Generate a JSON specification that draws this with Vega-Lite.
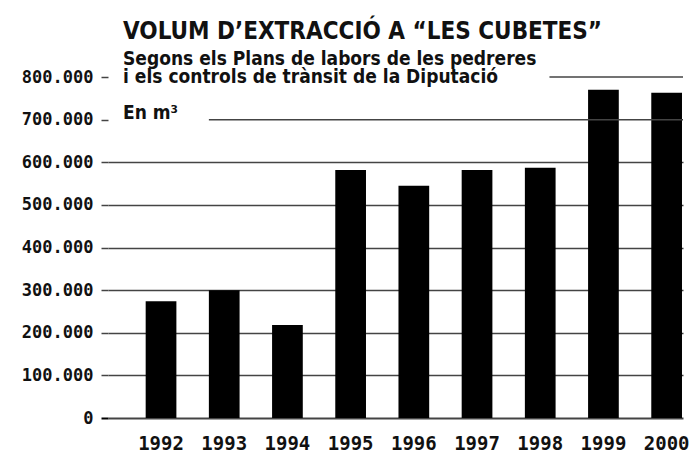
{
  "$schema": "https://vega.github.io/schema/vega-lite/v6.json",
  "width": 575,
  "height": 341,
  "autosize": {"type": "none"},
  "padding": {"left": 108, "top": 77, "right": 11, "bottom": 34},
  "background": "white",
  "config": {"view": {"stroke": null}},
  "title": {
    "text": "VOLUM D’EXTRACCIÓ A “LES CUBETES”",
    "subtitle": ["Segons els Plans de labors de les pedreres", "i els controls de trànsit de la Diputació", "\u200b", "En m³"],
    "anchor": "start",
    "frame": "group",
    "dx": 15,
    "offset": -55,
    "font": "DejaVu Sans Condensed",
    "fontSize": 24,
    "fontWeight": "bold",
    "color": "#111",
    "subtitleFont": "DejaVu Sans Condensed",
    "subtitleFontSize": 19,
    "subtitleFontWeight": "bold",
    "subtitleColor": "#111",
    "subtitleLineHeight": 18,
    "subtitlePadding": 6
  },
  "layer": [
    {
      "data": {"values": [
        {"year": "1992", "volum": 274000},
        {"year": "1993", "volum": 300000},
        {"year": "1994", "volum": 218000},
        {"year": "1995", "volum": 582000},
        {"year": "1996", "volum": 545000},
        {"year": "1997", "volum": 582000},
        {"year": "1998", "volum": 587000},
        {"year": "1999", "volum": 770000},
        {"year": "2000", "volum": 763000}
      ]},
      "mark": {"type": "bar", "color": "black"},
      "encoding": {
        "x": {
          "field": "year", "type": "nominal",
          "scale": {"paddingInner": 0.514, "paddingOuter": 0.306, "align": 0.974},
          "axis": {
            "title": null, "labelAngle": 0, "ticks": false, "domain": false,
            "labelFont": "DejaVu Sans Mono", "labelFontSize": 19, "labelFontWeight": "bold",
            "labelColor": "#111", "labelPadding": 16
          }
        },
        "y": {
          "field": "volum", "type": "quantitative",
          "scale": {"domain": [0, 800000], "nice": false},
          "axis": {
            "title": null,
            "values": [0, 100000, 200000, 300000, 400000, 500000, 600000, 700000, 800000],
            "labelExpr": "replace(format(datum.value, ','), ',', '.')",
            "labelFont": "DejaVu Sans Mono", "labelFontSize": 17, "labelFontWeight": "bold",
            "labelColor": "#111", "labelPadding": 8,
            "tickSize": 7,
            "tickColor": {"condition": {"test": "datum.value === 0", "value": "black"}, "value": "#444"},
            "tickWidth": {"condition": {"test": "datum.value === 0", "value": 2}, "value": 1.5},
            "domain": false,
            "grid": true,
            "gridColor": {"condition": {"test": "datum.value >= 700000", "value": "transparent"}, "value": "#444"},
            "gridWidth": {"condition": {"test": "datum.value === 0", "value": 2}, "value": 1.5}
          }
        }
      }
    },
    {
      "data": {"values": [{"volum": 700000, "year": "1993"}]},
      "mark": {"type": "rule", "color": "#444", "strokeWidth": 1.5},
      "encoding": {
        "x": {"field": "year", "type": "nominal", "bandPosition": 0},
        "x2": {"value": "width"},
        "y": {"field": "volum", "type": "quantitative"}
      }
    },
    {
      "data": {"values": [{"volum": 800000, "year": "1998"}]},
      "mark": {"type": "rule", "color": "#444", "strokeWidth": 1.5},
      "encoding": {
        "x": {"field": "year", "type": "nominal", "bandPosition": 0.8},
        "x2": {"value": "width"},
        "y": {"field": "volum", "type": "quantitative"}
      }
    }
  ]
}
